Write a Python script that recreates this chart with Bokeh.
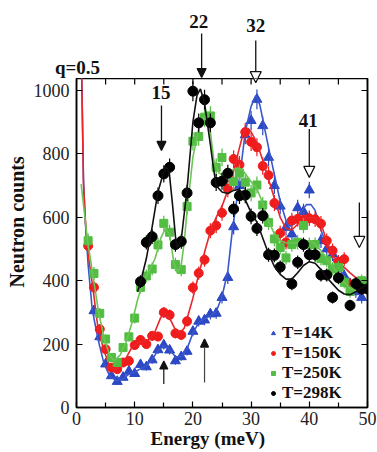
import math
from bokeh.plotting import figure
from bokeh.layouts import column
from bokeh.models import (Range1d, LinearAxis, FixedTicker, Arrow, NormalHead, Title,
                          Label, Legend, LegendItem, CustomLabelingPolicy)
from bokeh.embed import file_html
from bokeh.resources import INLINE

# ---------------- data ----------------
# T = 14 K (blue triangles)
e14 = [3, 4, 5, 6, 7, 8, 9, 10, 11, 12, 13, 14, 15, 16, 17, 18, 19, 20, 21, 22, 23, 24,
       25, 26, 27, 28, 29, 30, 31, 32, 33, 34, 35, 36, 37, 38, 39, 40, 42, 43, 44, 45, 46, 47, 48, 49]
n14 = [305, 223, 137, 100, 82, 95, 114, 107, 135, 128, 150, 182, 197, 181, 147, 160, 177, 240, 272, 276, 295, 297,
       347, 410, 570, 700, 860, 905, 972, 889, 789, 700, 635, 568, 547, 630, 618, 686, 526, 500, 484, 445, 415, 390, 365, 347]
# T = 150 K (red circles)
e150 = [2, 3, 4, 5, 6, 7, 8, 9, 10, 11, 12, 13, 14, 15, 16, 17, 18, 19, 20, 21, 22, 23, 24, 25,
        26, 27, 28, 29, 30, 31, 32, 33, 34, 35, 36, 37, 38, 39, 40, 41, 42, 43, 44, 45, 46, 47, 48, 49]
n150 = [510, 379, 247, 184, 126, 121, 142, 147, 197, 213, 200, 226, 224, 300, 292, 234, 229, 272, 378, 424, 466, 558, 574, 614,
        690, 784, 766, 869, 838, 821, 762, 733, 645, 550, 521, 590, 595, 592, 597, 594, 580, 526, 495, 460, 468, 388, 385, 375]
# T = 250 K (green squares)
e250 = [2, 3, 4, 5, 6, 7, 8, 9, 10, 11, 12, 13, 14, 15, 16, 17, 18, 19, 20, 21, 22, 23, 24, 25,
        27, 28, 29, 30, 31, 32, 33, 34, 35, 36, 37, 38, 39, 40, 41, 42, 43, 44, 45, 46, 47, 48, 49, 50]
n250 = [526, 423, 297, 216, 158, 142, 189, 223, 282, 379, 415, 437, 513, 581, 553, 451, 435, 634, 840, 855, 916, 920, 758, 789,
        713, 740, 711, 677, 702, 639, 584, 532, 505, 472, 514, 521, 574, 514, 514, 470, 463, 437, 442, 395, 366, 390, 400, 395]
# T = 298 K (black circles)
e298 = [11, 12, 13, 14, 15, 16, 17, 18, 19, 20, 21, 22, 23, 24, 25, 26, 27, 28, 29, 30, 31, 32, 33, 34, 35,
        37, 38, 39, 40, 41, 42, 43, 44, 45, 47, 48, 49, 50]
n298 = [397, 521, 539, 668, 737, 758, 514, 524, 677, 998, 898, 971, 898, 710, 714, 739, 626, 668, 670, 603, 565, 605, 482, 480, 443,
        390, 458, 514, 482, 482, 418, 418, 347, 409, 322, 391, 374, 374]

# fitted curves
fit14_e = [0.9, 1.2, 1.5, 2.0, 2.7, 3.7, 4.7, 5.7, 6.8, 8.0, 9.0, 10.0, 11.0, 12.0, 13.0, 14.0, 15.0, 16.0, 17.0, 18.0,
           19.0, 20.0, 21.0, 22.0, 23.0, 24.0, 25.0, 26.0, 26.8, 27.5, 28.0, 29.0, 30.0, 30.8, 31.5, 32.0, 33.0, 34.0,
           35.0, 36.0, 36.7, 37.5, 38.5, 39.5, 40.3, 41.0, 42.0, 43.0, 44.0, 45.0, 46.0, 47.0, 48.0, 49.0, 50.0]
fit14_n = [1040, 720, 590, 450, 310, 215, 140, 100, 85, 90, 105, 112, 122, 132, 152, 180, 195, 183, 160, 160,
           185, 235, 268, 280, 290, 302, 350, 430, 563, 650, 720, 870, 950, 984, 955, 910, 820, 735,
           650, 590, 572, 580, 615, 640, 640, 622, 560, 512, 470, 440, 415, 392, 375, 368, 378]
fit150_e = [0.9, 1.2, 1.5, 1.8, 2.8, 3.7, 4.7, 5.7, 6.5, 7.5, 8.5, 9.5, 10.5, 11.5, 12.5, 13.5, 14.5, 15.3, 16.0,
            17.0, 17.7, 18.5, 19.0, 20.0, 21.0, 22.0, 23.0, 24.0, 25.0, 26.0, 27.0, 28.0, 28.8, 29.5, 30.0, 31.0,
            32.0, 33.0, 34.0, 35.0, 36.0, 37.0, 38.0, 39.0, 40.0, 41.0, 42.0, 43.0, 44.0, 45.0, 46.0, 47.0, 48.0, 49.0, 50.0]
fit150_n = [1040, 705, 600, 510, 379, 250, 180, 130, 120, 130, 155, 190, 205, 208, 215, 240, 285, 295, 282,
            245, 235, 250, 280, 345, 420, 490, 555, 600, 635, 685, 745, 820, 875, 880, 870, 835,
            780, 720, 660, 600, 565, 560, 578, 595, 600, 598, 580, 525, 480, 458, 442, 425, 410, 400, 398]
fit250_e = [0.8, 1.9, 2.8, 3.8, 4.8, 5.8, 6.5, 7.5, 8.5, 9.5, 10.5, 11.5, 12.5, 13.5, 14.5, 15.3, 16.0, 16.7, 17.3,
            18.0, 18.5, 19.0, 20.0, 21.0, 22.0, 22.5, 23.0, 23.6, 24.5, 25.3, 26.5, 27.7, 28.5, 30.0, 31.0, 32.0,
            33.0, 34.0, 35.0, 36.0, 37.0, 38.0, 39.0, 40.3, 41.0, 42.0, 43.0, 44.0, 45.0, 46.0, 47.0, 48.0, 49.0, 50.0]
fit250_n = [705, 526, 420, 300, 215, 160, 148, 165, 205, 265, 340, 400, 430, 470, 535, 565, 545, 460, 425,
            450, 520, 620, 790, 880, 918, 915, 870, 780, 740, 732, 748, 756, 750, 712, 690, 645,
            588, 548, 526, 520, 519, 521, 524, 526, 515, 495, 468, 445, 420, 395, 375, 368, 372, 380]
fit298_e = [10.5, 11.0, 12.0, 13.0, 14.0, 15.0, 15.5, 16.0, 16.5, 17.0, 17.3, 18.0, 19.0, 20.0, 20.7, 21.3, 22.0,
            23.0, 23.5, 24.0, 25.0, 26.0, 27.0, 28.0, 29.0, 30.0, 31.0, 32.0, 33.0, 34.0, 35.0, 36.0, 37.0, 38.0,
            39.0, 40.0, 41.0, 42.0, 43.0, 44.0, 45.0, 46.0, 47.0, 48.0, 49.0, 50.0]
fit298_n = [365, 395, 470, 570, 680, 745, 760, 730, 640, 540, 505, 530, 690, 900, 985, 1005, 960,
            830, 760, 700, 680, 675, 685, 688, 655, 615, 585, 535, 485, 445, 420, 405, 405, 425,
            448, 460, 455, 435, 410, 390, 370, 358, 356, 365, 378, 388]

labels = ["T=14K", "T=150K", "T=250K", "T=298K"]
x_ticks = [0, 10, 20, 30, 40, 50]
x_minor = [5, 15, 25, 35, 45]
y_ticks = [0, 200, 400, 600, 800, 1000]
peak_text = ["15", "22", "32", "41"]

SERIF = "Liberation Serif"
X0, X1, Y0, Y1 = 0, 50, 0, 1038

# ---------------- layout geometry (pixels) ----------------
W = 377
TOP_H = 78            # strip above the frame (peak labels, q=0.5)
MAIN_H = 452 - TOP_H
BL, BR, BB = 76, 10, 45
frame_w = W - BL - BR
frame_h = MAIN_H - BB
px_per_e = frame_w / (X1 - X0)
cnt_per_px = (Y1 - Y0) / frame_h

# ---------------- main plot ----------------
p = figure(width=W, height=MAIN_H, output_backend="svg", toolbar_location=None, title=None,
           x_range=Range1d(X0, X1), y_range=Range1d(Y0, Y1),
           min_border_left=BL, min_border_right=BR, min_border_top=0, min_border_bottom=BB)
p.frame_align = False
p.xgrid.visible = False
p.ygrid.visible = False
p.outline_line_color = "black"
p.outline_line_width = 1.5
p.background_fill_color = "white"
p.border_fill_color = "white"

hide_labels = CustomLabelingPolicy(code="for (const i of [...indices]) indices.unset(i); return indices")


def style_axis(ax, ticks, minor, show_labels):
    ax.ticker = FixedTicker(ticks=ticks, minor_ticks=minor)
    ax.axis_line_color = "black"
    ax.axis_line_width = 1.5
    ax.major_tick_in = 6
    ax.major_tick_out = 0
    ax.minor_tick_in = 5
    ax.minor_tick_out = 0
    ax.major_tick_line_width = 1.2
    ax.minor_tick_line_width = 1.2
    ax.major_label_text_font = SERIF
    if show_labels:
        ax.major_label_text_font_size = "18px"
        ax.major_label_text_color = "#222222"
    else:
        ax.major_label_text_font_size = "1px"
        ax.major_label_standoff = 0
        ax.major_label_policy = hide_labels


xb = p.below[0]
style_axis(xb, x_ticks, x_minor, True)
xb.major_label_standoff = 4
yl = p.left[0]
style_axis(yl, y_ticks, [], True)
yl.major_label_standoff = 7
yr = LinearAxis()
style_axis(yr, y_ticks, [], False)
p.add_layout(yr, "right")

# ticks along the top edge of the frame (pointing inward, as on the bottom axis)
tick_len = 6 * cnt_per_px
top_ticks = x_ticks + x_minor
p.segment(x0=top_ticks, y0=[Y1] * len(top_ticks), x1=top_ticks, y1=[Y1 - tick_len] * len(top_ticks),
          line_color="black", line_width=1.2)

# axis titles
p.add_layout(Title(text="Energy (meV)", align="left", offset=74, standoff=0, vertical_align="top",
                   text_font=SERIF, text_font_style="bold", text_font_size="19px", text_color="#111111"),
             "below")
p.add_layout(Title(text="Neutron counts", align="left", offset=120, standoff=4, vertical_align="middle",
                   text_font=SERIF, text_font_style="bold", text_font_size="20px", text_color="#111111"),
             "left")

colors_line = ["#3b57cc", "#e8262a", "#6cc456", "#111111"]
colors_pt = ["#2c48c4", "#f01c1c", "#52bd42", "#000000"]

series = [(e14, n14, fit14_e, fit14_n, "triangle", 10),
          (e150, n150, fit150_e, fit150_n, "circle", 9),
          (e250, n250, fit250_e, fit250_n, "square", 8),
          (e298, n298, fit298_e, fit298_n, "circle", 10)]

renderers = []
for (ex, ny, fe, fn, mk, sz), cl, cp in zip(series, colors_line, colors_pt):
    # Poisson counting errors
    err = [math.sqrt(v) for v in ny]
    p.segment(x0=ex, y0=[v - d for v, d in zip(ny, err)], x1=ex, y1=[v + d for v, d in zip(ny, err)],
              line_color=cp, line_width=1.2)
    r = p.scatter(x=ex, y=ny, marker=mk, size=sz, fill_color=cp, line_color=cp)
    p.line(x=fe, y=fn, line_color=cl, line_width=1.6)
    renderers.append(r)

legend = Legend(items=[LegendItem(label=t, renderers=[r]) for t, r in zip(labels, renderers)],
                location=(192, 4), orientation="vertical",
                label_text_font=SERIF, label_text_font_style="bold", label_text_font_size="17px",
                label_text_color="#111111",
                glyph_width=10, glyph_height=14, label_height=14, spacing=0, label_standoff=4,
                padding=0, margin=0, border_line_color=None, background_fill_alpha=0)
p.add_layout(legend)

# ---------------- strip above the frame (same data scales) ----------------
top = figure(width=W, height=TOP_H, output_backend="svg", toolbar_location=None, title=None,
             x_range=Range1d(X0 - BL / px_per_e, X1 + BR / px_per_e),
             y_range=Range1d(Y1, Y1 + TOP_H * cnt_per_px),
             x_axis_type=None, y_axis_type=None, min_border=0,
             min_border_left=0, min_border_right=0, min_border_top=0, min_border_bottom=0)
top.frame_align = False
top.xgrid.visible = False
top.ygrid.visible = False
top.outline_line_color = None
top.background_fill_color = "white"
top.border_fill_color = "white"

bold = dict(text_font=SERIF, text_font_style="bold", text_color="#111111")
top.add_layout(Label(x=-3.7, y=1073, text="q=0.5", text_align="left",
                     text_baseline="alphabetic", text_font_size="19px", **bold))

# peak labels: (energy, count, text, figure)
for x, y, t, fig in [(14.5, 995, peak_text[0], p), (21.0, 1219, peak_text[1], top),
                     (30.8, 1205, peak_text[2], top), (39.8, 905, peak_text[3], p)]:
    fig.add_layout(Label(x=x, y=y, text=t, text_align="center", text_baseline="middle",
                         text_font_size="19px", **bold))


def add_arrow(figs, x, y0, y1, size, fill, lw=1.3, color="#111111"):
    for fig in figs:
        fig.add_layout(Arrow(x_start=x, y_start=y0, x_end=x, y_end=y1, line_width=lw, line_color=color,
                             end=NormalHead(size=size, fill_color=fill, line_color="#111111",
                                            line_width=1.2)))


add_arrow([p], 14.6, 953, 811, 9, "#111111")
add_arrow([top, p], 21.5, 1180, 1041, 9, "#111111")
add_arrow([top, p], 30.8, 1158, 1025, 11, "white")
add_arrow([p], 40.0, 879, 726, 11, "white")
add_arrow([p], 48.6, 647, 505, 11, "white")
add_arrow([p], 15.0, 74, 147, 8, "#111111", 1.2)
add_arrow([p], 22.0, 79, 216, 8, "#111111", 1.2, "#444444")

layout = column(top, p, spacing=0)
open("out.html", "w").write(file_html(layout, INLINE))
